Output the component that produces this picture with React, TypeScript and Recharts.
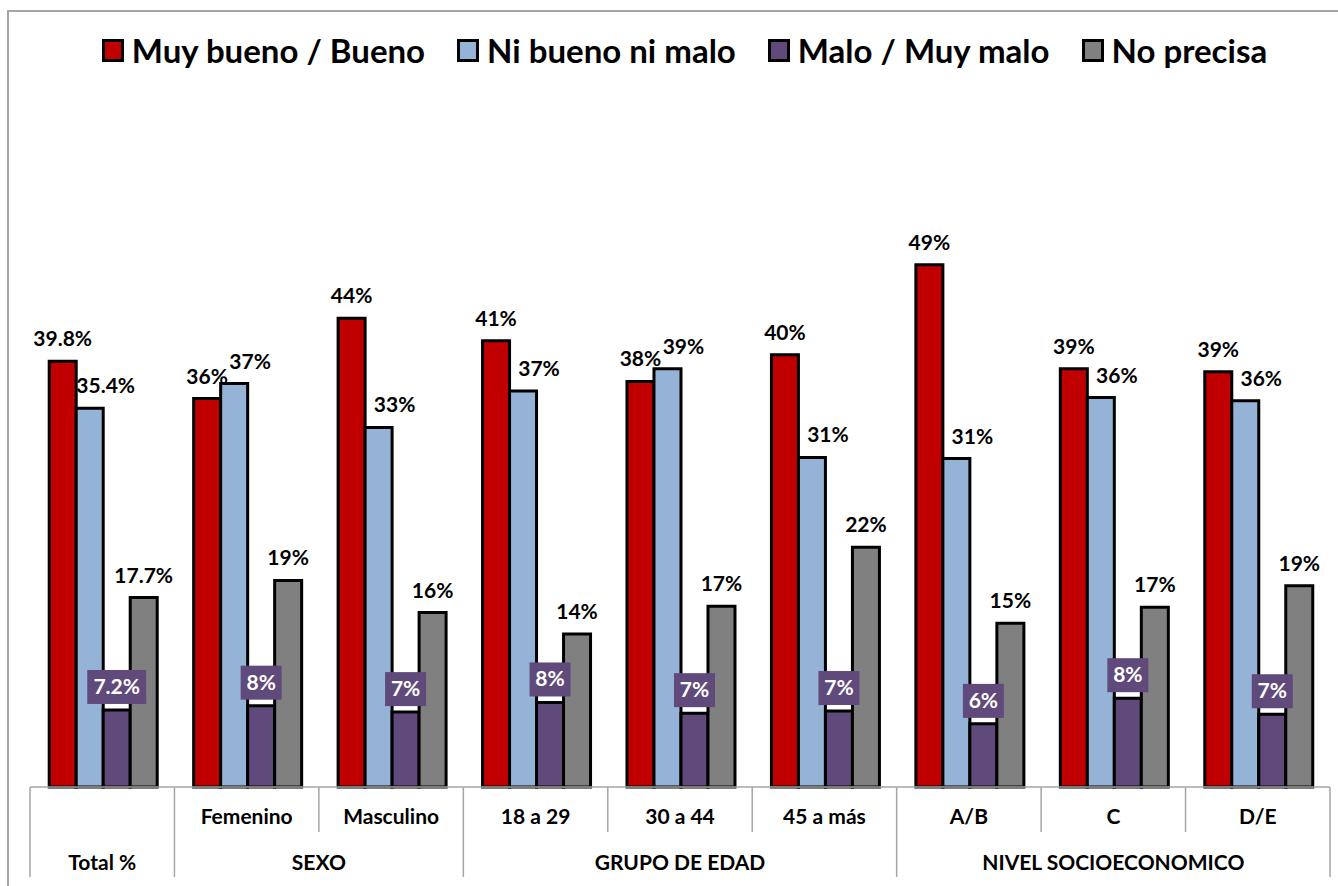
import React from "react";
import { BarChart, Bar, XAxis, YAxis, Legend, LabelList } from "recharts";

const categories = ["", "Femenino", "Masculino", "18 a 29", "30 a 44", "45 a más", "A/B", "C", "D/E"];
const groups = ["Total %", "SEXO", "GRUPO DE EDAD", "NIVEL SOCIOECONOMICO"];
const groupSizes = [1, 2, 3, 3];

const muyBueno = [39.8, 36.3, 43.8, 41.7, 37.9, 40.4, 48.8, 39.1, 38.8];
const niBueno = [35.4, 37.7, 33.6, 37.0, 39.1, 30.8, 30.7, 36.4, 36.1];
const malo = [7.2, 7.6, 7.0, 7.9, 6.9, 7.1, 5.9, 8.3, 6.8];
const noPrecisa = [17.7, 19.3, 16.3, 14.3, 16.9, 22.4, 15.3, 16.8, 18.8];

const muyBuenoLabels = ["39.8%", "36%", "44%", "41%", "38%", "40%", "49%", "39%", "39%"];
const niBuenoLabels = ["35.4%", "37%", "33%", "37%", "39%", "31%", "31%", "36%", "36%"];
const maloLabels = ["7.2%", "8%", "7%", "8%", "7%", "7%", "6%", "8%", "7%"];
const noPrecisaLabels = ["17.7%", "19%", "16%", "14%", "17%", "22%", "15%", "17%", "19%"];

const series = [
  { key: "muyBueno", name: "Muy bueno / Bueno", color: "#C00000" },
  { key: "niBueno", name: "Ni bueno ni malo", color: "#95B3D7" },
  { key: "malo", name: "Malo / Muy malo", color: "#604A7B" },
  { key: "noPrecisa", name: "No precisa", color: "#808080" },
];

const data = categories.map((cat, i) => ({
  cat,
  muyBueno: muyBueno[i],
  niBueno: niBueno[i],
  malo: malo[i],
  noPrecisa: noPrecisa[i],
  muyBuenoLabel: muyBuenoLabels[i],
  niBuenoLabel: niBuenoLabels[i],
  maloLabel: maloLabels[i],
  noPrecisaLabel: noPrecisaLabels[i],
}));

const FONT = "Lato, 'Open Sans', sans-serif";
const GRID = "#a6a6a6";
const BAND = 1300 / categories.length;
const groupStarts = groupSizes.map((_, i) => groupSizes.slice(0, i).reduce((a, b) => a + b, 0));

// rough text width for Lato bold 21px
const textWidth = (s: string) =>
  s.split("").reduce((w, c) => w + (c === "." ? 5.7 : c === "%" ? 16.8 : 12.2), 0);

const CategoryTick = (props: any) => {
  const { x, y, payload } = props;
  const i = categories.indexOf(payload.value);
  const left = x - BAND / 2;
  const g = groupStarts.indexOf(i);
  return (
    <g>
      <line x1={left} x2={left} y1={y} y2={y + (g >= 0 ? 90 : 45)} stroke={GRID} strokeWidth={1.5} />
      {i === categories.length - 1 && (
        <line x1={x + BAND / 2} x2={x + BAND / 2} y1={y} y2={y + 90} stroke={GRID} strokeWidth={1.5} />
      )}
      <text x={x} y={y + 37} textAnchor="middle" fontFamily={FONT} fontWeight={700} fontSize={21} fill="#000">
        {payload.value}
      </text>
      {g >= 0 && (
        <text
          x={left + (groupSizes[g] * BAND) / 2}
          y={y + 83}
          textAnchor="middle"
          fontFamily={FONT}
          fontWeight={700}
          fontSize={21}
          fill="#000"
        >
          {groups[g]}
        </text>
      )}
    </g>
  );
};

const topLabel = (dx: number) => (props: any) => {
  const { x, y, width, value } = props;
  return (
    <text
      x={x + width / 2 + dx}
      y={y - 15}
      textAnchor="middle"
      fontFamily={FONT}
      fontWeight={700}
      fontSize={21}
      fill="#000"
    >
      {value}
    </text>
  );
};

const boxLabel = (props: any) => {
  const { x, y, width, value } = props;
  const w = textWidth(String(value)) + 12;
  const cx = x + width / 2;
  return (
    <g>
      <rect x={cx - w / 2} y={y - 40} width={w} height={34} fill="#604A7B" />
      <text x={cx} y={y - 16} textAnchor="middle" fontFamily={FONT} fontWeight={700} fontSize={21} fill="#fff">
        {value}
      </text>
    </g>
  );
};

const renderLegend = () => (
  <div
    style={{
      height: 112,
      display: "flex",
      justifyContent: "center",
      alignItems: "flex-start",
      gap: 32,
      paddingLeft: 9,
      fontFamily: FONT,
    }}
  >
    {series.map((s) => (
      <div
        key={s.key}
        style={{ display: "flex", alignItems: "center", gap: 8, fontSize: 33, fontWeight: 700, lineHeight: "34px" }}
      >
        <span style={{ display: "inline-block", width: 16, height: 17, border: "3px solid #000", background: s.color }} />
        {s.name}
      </div>
    ))}
  </div>
);

const App: React.FC = () => {
  return (
    <div
      style={{
        position: "absolute",
        left: 0,
        top: 0,
        width: 1338,
        height: 886,
        overflow: "hidden",
        background: "#fff",
        fontFamily: FONT,
      }}
    >
      {/* chart frame */}
      <div
        style={{
          position: "absolute",
          left: 7,
          top: 10,
          width: 1400,
          height: 1000,
          border: `2px solid ${GRID}`,
        }}
      />
      <BarChart
        width={1338}
        height={886}
        data={data}
        margin={{ top: 33, right: 8, bottom: 0, left: 30 }}
        barCategoryGap="13.3%"
        barGap={0}
      >
        <Legend verticalAlign="top" align="center" content={renderLegend} />
        <YAxis hide domain={[0, 60]} />
        <XAxis
          dataKey="cat"
          interval={0}
          height={99}
          tickSize={0}
          tickMargin={0}
          tickLine={false}
          axisLine={{ stroke: GRID, strokeWidth: 1.5 }}
          tick={<CategoryTick />}
        />
        <Bar dataKey="muyBueno" fill="#C00000" stroke="#000" strokeWidth={3} isAnimationActive={false}>
          <LabelList dataKey="muyBuenoLabel" content={topLabel(0)} />
        </Bar>
        <Bar dataKey="niBueno" fill="#95B3D7" stroke="#000" strokeWidth={3} isAnimationActive={false}>
          <LabelList dataKey="niBuenoLabel" content={topLabel(16)} />
        </Bar>
        <Bar dataKey="malo" fill="#604A7B" stroke="#000" strokeWidth={3} isAnimationActive={false}>
          <LabelList dataKey="maloLabel" content={boxLabel} />
        </Bar>
        <Bar dataKey="noPrecisa" fill="#808080" stroke="#000" strokeWidth={3} isAnimationActive={false}>
          <LabelList dataKey="noPrecisaLabel" content={topLabel(0)} />
        </Bar>
      </BarChart>
    </div>
  );
};

export default App;
